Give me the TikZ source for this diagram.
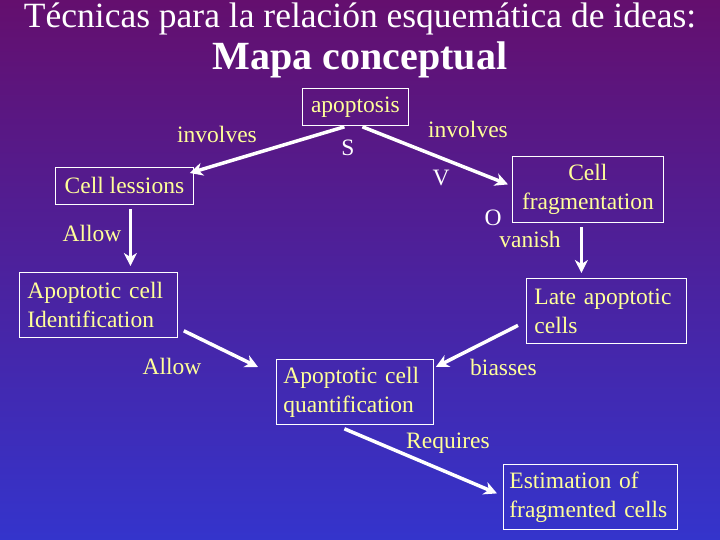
\documentclass[tikz,border=0pt]{standalone}
\usepackage{fontspec}
\setmainfont{Liberation Serif}
\usetikzlibrary{arrows.meta, positioning}
\definecolor{mapaTop}{HTML}{640F6E}
\definecolor{mapaMid}{HTML}{4A1FA3}
\definecolor{mapaBottom}{HTML}{3434CC}
\definecolor{textYellow}{HTML}{FFFF99}
\tikzset{
  arrowW/.style={-{Stealth[length=13pt, width=13pt, inset=4pt]}, white, line width=3.5pt},
  boxY/.style={rectangle, draw=white, line width=0.8pt, text=textYellow,
               font=\rmfamily\fontsize{23.5}{29}\selectfont, inner xsep=8pt, inner ysep=0pt,
               anchor=north west},
  labelY/.style={text=textYellow, font=\rmfamily\fontsize{23.5}{29}\selectfont, inner sep=0pt},
  labelW/.style={text=white, font=\rmfamily\fontsize{23.5}{29}\selectfont, inner sep=0pt},
}

\begin{document}
\begin{tikzpicture}[x=1pt, y=-1pt]
    \shade[top color=mapaTop, middle color=mapaMid, bottom color=mapaBottom] (0,0) rectangle (720,540);
    \useasboundingbox (0,0) rectangle (720,540);

    % titulo
    \node[text=white, font=\rmfamily\fontsize{35.5}{40}\selectfont, anchor=base] (titulo) at (360,28)
      {Técnicas para la relación esquemática de ideas:};
    \node[text=white, font=\rmfamily\fontsize{40}{44}\selectfont\bfseries, anchor=base] (subtitulo) at (360,70)
      {Mapa conceptual};

    % conceptos
    \node[boxY, minimum width=106pt, minimum height=37pt] (apo) at (302,88) {apoptosis};
    \node[boxY, minimum width=138pt, minimum height=37pt] (les) at (55,167) {Cell lessions};
    \node[boxY, inner xsep=7pt, text width=137pt, minimum height=66pt, align=center] (frag) at (512,156)
      {Cell\\fragmentation};
    \node[boxY, text width=142pt, minimum height=65pt, align=left] (ident) at (19,272)
      {Apoptotic cell\\Identification};
    \node[boxY, inner xsep=7pt, text width=143pt, minimum height=65pt, align=left] (quant) at (276,359)
      {Apoptotic cell\\quantification};
    \node[boxY, text width=144pt, minimum height=65pt, align=left] (late) at (526,278)
      {Late apoptotic\\cells};
    \node[boxY, inner xsep=6pt, text width=162pt, minimum height=65pt, align=left] (estim) at (503,464)
      {Estimation of\\fragmented cells};

    % enlaces
    \draw[arrowW] ([xshift=-11pt,yshift=-1pt]apo.south) -- ([xshift=-4pt,yshift=-6pt]les.north east);
    \draw[arrowW] ([xshift=7pt,yshift=-1pt]apo.south) -- ([xshift=-4pt,yshift=5pt]frag.west);
    \draw[arrowW] ([xshift=6pt,yshift=-4pt]les.south) -- ([xshift=32pt,yshift=6pt]ident.north);
    \draw[arrowW] ([xshift=6pt,yshift=7pt]ident.south east) -- ([xshift=-18pt,yshift=-8pt]quant.north west);
    \draw[arrowW] ([xshift=-6.5pt,yshift=-4pt]frag.south) -- ([xshift=-25pt,yshift=5pt]late.north);
    \draw[arrowW] ([xshift=-8pt,yshift=-14.5pt]late.west) -- ([xshift=2pt,yshift=-8pt]quant.north east);
    \draw[arrowW] ([xshift=-10.5pt,yshift=-4pt]quant.south) -- ([xshift=-6pt,yshift=3.5pt]estim.west);

    % etiquetas
    \node[labelY] (inv1) at (217,134.5) {involves};
    \node[labelY] (inv2) at (468,129) {involves};
    \node[labelW] (letS) at (348,148) {S};
    \node[labelW] (letV) at (441,177.5) {V};
    \node[labelW] (letO) at (493,217.5) {O};
    \node[labelY] (vanish) at (530,239.5) {vanish};
    \node[labelY] (allow1) at (92,233) {Allow};
    \node[labelY] (allow2) at (172,366) {Allow};
    \node[labelY] (biasses) at (503.5,367.5) {biasses};
    \node[labelY] (requires) at (448,443.5) {Requires};
\end{tikzpicture}
\end{document}
